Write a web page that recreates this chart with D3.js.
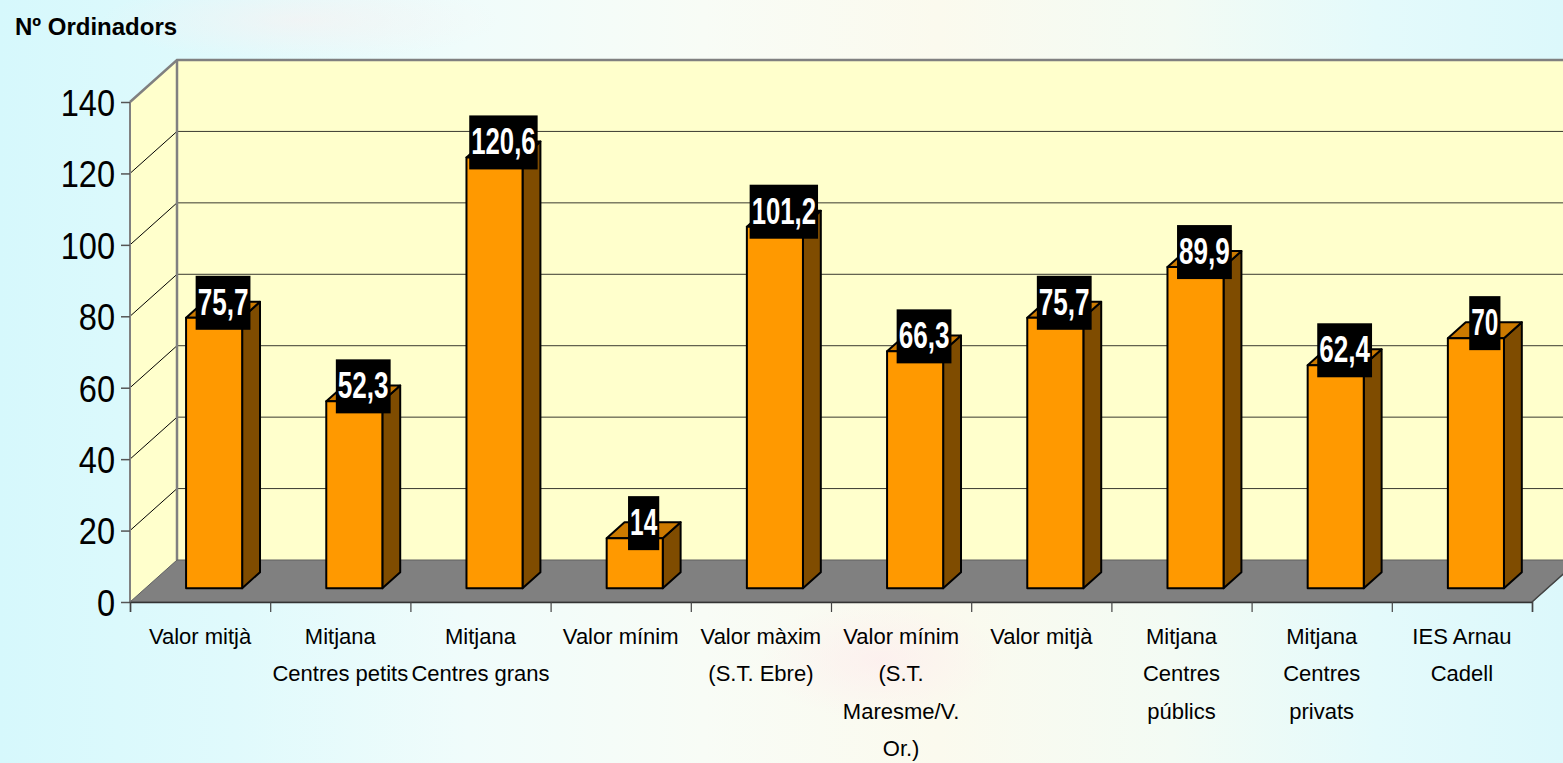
<!DOCTYPE html>
<html><head><meta charset="utf-8">
<script src="https://cdn.jsdelivr.net/npm/d3@7/dist/d3.min.js"></script>
<style>html,body{margin:0;padding:0;overflow:hidden;}svg{display:block;}</style>
</head><body>
<svg id="c" width="1563" height="763"></svg>
<script>
const categories = [
  ["Valor mitjà"],
  ["Mitjana","Centres petits"],
  ["Mitjana","Centres grans"],
  ["Valor mínim"],
  ["Valor màxim","(S.T. Ebre)"],
  ["Valor mínim","(S.T.","Maresme/V.","Or.)"],
  ["Valor mitjà"],
  ["Mitjana","Centres","públics"],
  ["Mitjana","Centres","privats"],
  ["IES Arnau","Cadell"]
];
const values = [75.7, 52.3, 120.6, 14, 101.2, 66.3, 75.7, 89.9, 62.4, 70];
const yTicks = [0, 20, 40, 60, 80, 100, 120, 140];
const yTitle = "Nº Ordinadors";

const svg = d3.select("#c");
const W = 1563, H = 763;

// background
const defs = svg.append("defs");
const bg = defs.append("linearGradient").attr("id","bg").attr("x1","0").attr("x2","1").attr("y1","0").attr("y2","0");
[[0,"#d6f8fc"],[0.15,"#e0fafc"],[0.3,"#f0fcfb"],[0.45,"#f8fcf6"],[0.6,"#fbfaee"],[0.75,"#f3fbf4"],[0.88,"#e4fafb"],[1,"#dcf8fb"]]
  .forEach(([o,c])=>bg.append("stop").attr("offset",o).attr("stop-color",c));
svg.append("rect").attr("width",W).attr("height",H).attr("fill","url(#bg)");
const rg = defs.append("radialGradient").attr("id","pink");
rg.append("stop").attr("offset",0).attr("stop-color","#fdeeee").attr("stop-opacity",0.8);
rg.append("stop").attr("offset",1).attr("stop-color","#fdeeee").attr("stop-opacity",0);
svg.append("ellipse").attr("cx",880).attr("cy",660).attr("rx",120).attr("ry",60).attr("fill","url(#pink)");
svg.append("ellipse").attr("cx",300).attr("cy",20).attr("rx",200).attr("ry",40).attr("fill","url(#pink)").attr("opacity",0.6);

// geometry
const x0 = 130, x1 = 1532, yZero = 602, yTop = 102;
const DX = 47, DY = -42;
const y = d3.scaleLinear().domain([0,140]).range([yZero, yTop]);
const xb = d3.scaleBand().domain(d3.range(categories.length)).range([x0, x1]).paddingInner(0).paddingOuter(0);
const xl = d3.scaleLinear().domain([0, categories.length]).range([x0, x1]);
const P = (x, yy, f) => [x + DX*f, yy + DY*f];

// back wall
const wallRight = W + 10;
svg.append("polygon").attr("points", [[x0+DX, y(140)+DY],[wallRight, y(140)+DY],[wallRight, yZero+DY],[x0+DX, yZero+DY]].join(" "))
  .attr("fill","#ffffcc");
// left side wall
svg.append("polygon").attr("points", [[x0, y(140)],[x0+DX, y(140)+DY],[x0+DX, yZero+DY],[x0, yZero]].join(" "))
  .attr("fill","#ffffcc");
// gridlines
const grid = svg.append("g");
yTicks.filter(t=>t>0 && t<140).forEach(t=>{
  grid.append("line").attr("x1",x0+DX).attr("x2",wallRight).attr("y1",y(t)+DY).attr("y2",y(t)+DY)
    .attr("stroke","#3a3a30").attr("stroke-width",1);
  grid.append("line").attr("x1",x0).attr("x2",x0+DX).attr("y1",y(t)).attr("y2",y(t)+DY)
    .attr("stroke","#000").attr("stroke-width",1);
});
// wall borders
svg.append("polyline").attr("points", [[x0, y(140)],[x0+DX, y(140)+DY],[wallRight, y(140)+DY]].join(" "))
  .attr("fill","none").attr("stroke","#808080").attr("stroke-width",2.5);
svg.append("line").attr("x1",x0+DX).attr("x2",x0+DX).attr("y1",y(140)+DY).attr("y2",yZero+DY)
  .attr("stroke","#808080").attr("stroke-width",2.5);

// floor
svg.append("polygon").attr("points", [[x0,yZero],[x1,yZero],[x1+DX,yZero+DY],[x0+DX,yZero+DY]].join(" "))
  .attr("fill","#808080").attr("stroke","#606060").attr("stroke-width",1);

// bars
const fF = 0.33, fB = 0.71;
const bw = xb.bandwidth()*0.4;
const bars = svg.append("g");
values.forEach((v,i)=>{
  const cx = xb(i) + xb.bandwidth()/2 - 1.5;
  const xa = cx - bw/2, xc = cx + bw/2;
  const yb = y(0), yt = y(v);
  const fr = [P(xa,yb,fF),P(xc,yb,fF),P(xc,yt,fF),P(xa,yt,fF)];
  const sd = [P(xc,yb,fF),P(xc,yb,fB),P(xc,yt,fB),P(xc,yt,fF)];
  const tp = [P(xa,yt,fF),P(xc,yt,fF),P(xc,yt,fB),P(xa,yt,fB)];
  const g = bars.append("g").attr("stroke","#000").attr("stroke-width",2).attr("stroke-linejoin","round");
  g.append("polygon").attr("points",sd.join(" ")).attr("fill","#7f4c00");
  g.append("polygon").attr("points",tp.join(" ")).attr("fill","#cc7a00");
  g.append("polygon").attr("points",fr.join(" ")).attr("fill","#ff9900");
});

// front axis line
svg.append("line").attr("x1",x0).attr("x2",x0).attr("y1",y(140)).attr("y2",yZero).attr("stroke","#808080").attr("stroke-width",2);

// y axis
const yAxis = svg.append("g").attr("transform",`translate(${x0},0)`)
  .call(d3.axisLeft(y).tickValues(yTicks).tickSize(9).tickPadding(8).tickFormat(d3.format("d")));
yAxis.select(".domain").remove();
yAxis.selectAll(".tick line").attr("stroke","#555").attr("stroke-width",1.5);
yAxis.selectAll(".tick text").attr("font-family","'Liberation Sans', Arial, sans-serif").attr("font-size",37)
  .attr("fill","#000").attr("dy","0.36em").attr("x",-17).attr("transform","scale(0.88,1)");

// x axis
const xAxisLine = svg.append("g").attr("transform",`translate(0,${yZero})`)
  .call(d3.axisBottom(xl).tickValues(d3.range(categories.length+1)).tickSize(10).tickFormat(""));
xAxisLine.select(".domain").attr("stroke","#333").attr("stroke-width",1.5);
xAxisLine.selectAll(".tick line").attr("stroke","#444").attr("stroke-width",1.2);
svg.append("line").attr("x1",x1).attr("y1",yZero).attr("x2",x1+DX).attr("y2",yZero+DY).attr("stroke","#444").attr("stroke-width",1.5);

const xAxis = svg.append("g").attr("transform",`translate(0,${yZero})`)
  .call(d3.axisBottom(xb).tickSize(0).tickFormat(""));
xAxis.select(".domain").remove();
xAxis.selectAll(".tick").each(function(d){
  const t = d3.select(this).select("text").attr("y",0).attr("dy",null).text(null)
    .attr("font-family","'Liberation Sans', Arial, sans-serif").attr("font-size",22).attr("fill","#000");
  categories[d].forEach((ln,k)=>{
    t.append("tspan").attr("x",0).attr("y",42 + k*37.3).text(ln);
  });
});

// data labels
const labels = svg.append("g");
values.forEach((v,i)=>{
  const cx = xb(i) + xb.bandwidth()/2 - 1.5;
  const lx = cx + DX*(fF+fB)/2 + 0;
  const ly = y(v) + DY*fF - 15;
  const g = labels.append("g").attr("transform",`translate(${lx},${ly})`);
  const txt = String(v).replace(".",",");
  const r = g.append("rect").attr("fill","#000");
  const t = g.append("text").attr("text-anchor","middle").attr("y",12)
    .attr("font-family","'Liberation Sans', Arial, sans-serif")
    .attr("font-weight","bold").attr("font-size",37).attr("fill","#fff").text(txt);
  const nDig = txt.replace(/[^0-9]/g,"").length, nCom = txt.length - nDig;
  const target = nDig*13.6 + nCom*10;
  const sx = target / t.node().getComputedTextLength();
  t.attr("transform",`scale(${sx},1)`);
  const w = target + 4;
  r.attr("x",-w/2).attr("y",-27).attr("width",w).attr("height",54);
});

// title
svg.append("text").attr("x",15).attr("y",35).attr("font-family","'Liberation Sans', Arial, sans-serif")
  .attr("font-weight","bold").attr("font-size",24).attr("fill","#000").text(yTitle);
</script>
</body></html>
